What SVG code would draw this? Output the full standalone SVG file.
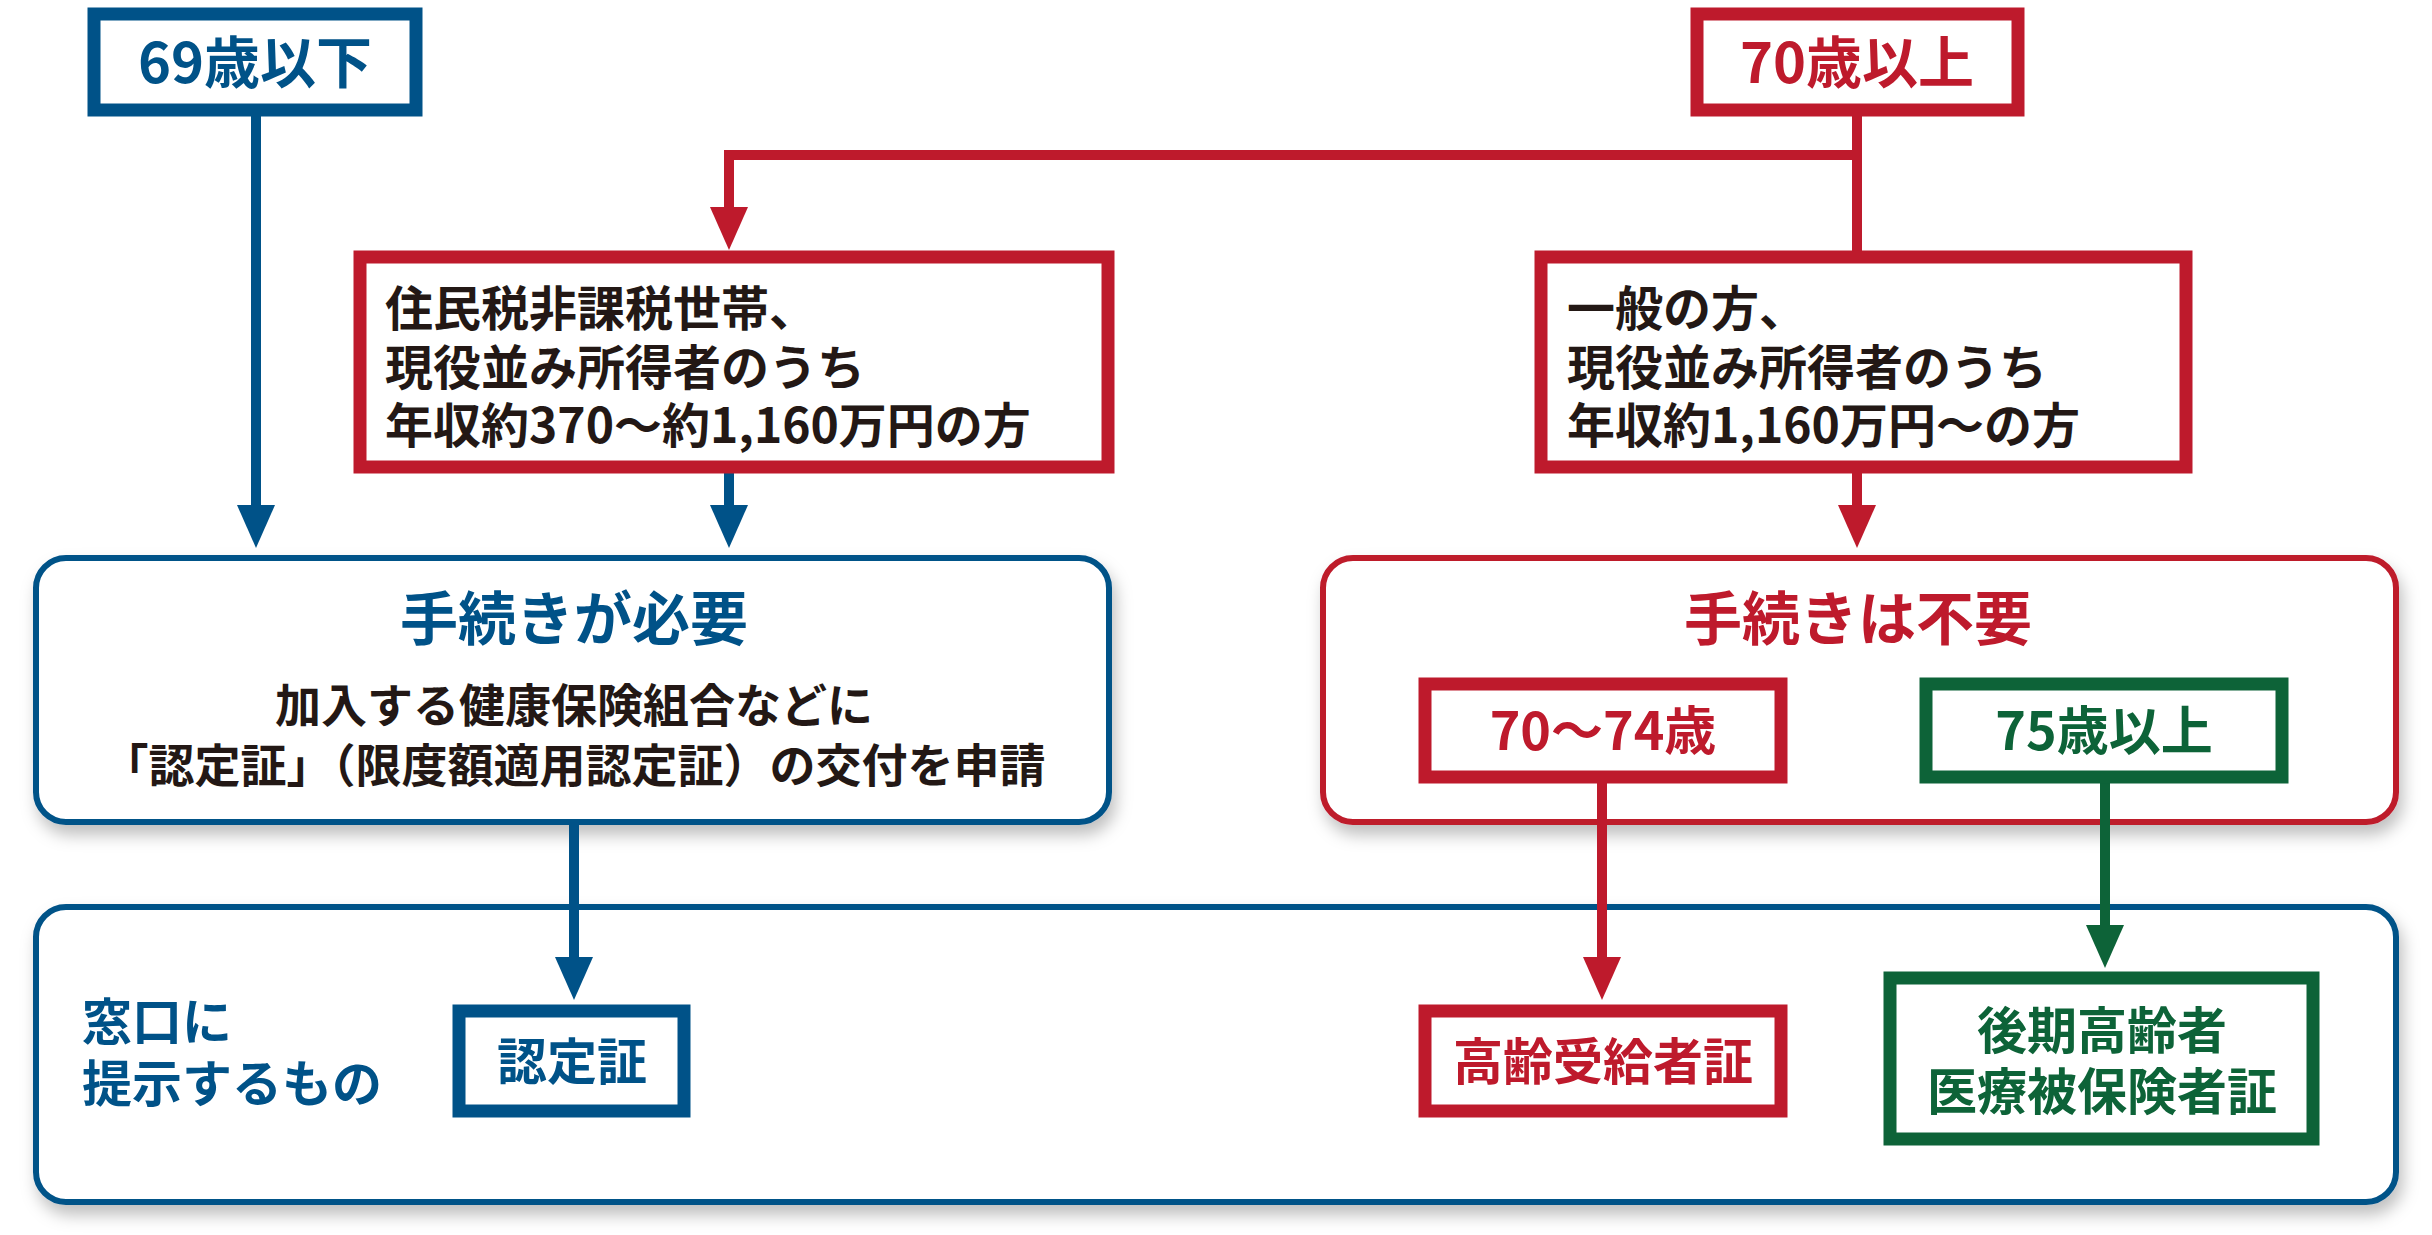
<svg xmlns="http://www.w3.org/2000/svg" width="2432" height="1235" viewBox="0 0 2432 1235">
<defs>
<style>
text{font-family:"Noto Sans CJK JP","Noto Sans",sans-serif;font-weight:bold}
.b{fill:#005288}.r{fill:#be1a2c}.g{fill:#0d6338}.k{fill:#231815}
.sb{stroke:#005288}.sr{stroke:#be1a2c}.sg{stroke:#0d6338}
.box{fill:#fff;stroke-width:13}
.rnd{fill:#fff;stroke-width:6}
.ln{fill:none;stroke-width:10}
</style>
<filter id="sh" x="-5%" y="-5%" width="110%" height="120%"><feDropShadow dx="4" dy="10" stdDeviation="8" flood-color="#000" flood-opacity="0.25"/></filter>
</defs>
<rect width="2432" height="1235" fill="#fff"/>
<g id="need"><rect class="rnd sb" x="36" y="558" width="1073" height="264" rx="30" filter="url(#sh)"/>
<text class="b" x="574" y="640" font-size="58" text-anchor="middle">手続きが必要</text>
<text class="k" x="574" y="722" font-size="46" text-anchor="middle">加入する健康保険組合などに</text>
<text class="k" x="574" y="782" font-size="46" text-anchor="middle">「認定証」（限度額適用認定証）の交付を申請</text></g>
<g id="noneed"><rect class="rnd sr" x="1323" y="558" width="1073" height="264" rx="30" filter="url(#sh)"/>
<text class="r" x="1858" y="640" font-size="58" text-anchor="middle">手続きは不要</text></g>
<g id="bottom"><rect class="rnd sb" x="36" y="907" width="2360" height="295" rx="30" filter="url(#sh)"/>
<text class="b" x="82" y="1040" font-size="50">窓口に</text>
<text class="b" x="82" y="1102" font-size="50">提示するもの</text></g>
<g id="connectors">
<line class="ln sb" x1="256" y1="116" x2="256" y2="510"/><polygon class="b" points="237,505 275,505 256,548"/>
<polyline class="ln sr" points="1857,116 1857,155 729,155 729,212"/><polygon class="r" points="710,207 748,207 729,250"/>
<line class="ln sr" x1="1857" y1="155" x2="1857" y2="251"/>
<line class="ln sb" x1="729" y1="473" x2="729" y2="510"/><polygon class="b" points="710,505 748,505 729,548"/>
<line class="ln sr" x1="1857" y1="473" x2="1857" y2="510"/><polygon class="r" points="1838,505 1876,505 1857,548"/>
<line class="ln sb" x1="574" y1="822" x2="574" y2="962"/><polygon class="b" points="555,957 593,957 574,1000"/>
<line class="ln sr" x1="1602" y1="783" x2="1602" y2="962"/><polygon class="r" points="1583,957 1621,957 1602,1000"/>
<line class="ln sg" x1="2105" y1="783" x2="2105" y2="930"/><polygon class="g" points="2086,925 2124,925 2105,968"/>
</g>
<g id="u69"><rect class="box sb" x="94" y="14" width="322" height="96"/><text class="b" x="255" y="83" font-size="56" text-anchor="middle">69歳以下</text></g>
<g id="o70"><rect class="box sr" x="1697" y="14" width="321" height="96"/><text class="r" x="1857" y="83" font-size="56" text-anchor="middle">70歳以上</text></g>
<g id="low"><rect class="box sr" x="360" y="257" width="748" height="210"/>
<text class="k" x="385" y="326" font-size="48">住民税非課税世帯、</text>
<text class="k" x="385" y="385" font-size="48">現役並み所得者のうち</text>
<text class="k" x="385" y="443" font-size="48">年収約370〜約1,160万円の方</text></g>
<g id="gen"><rect class="box sr" x="1541" y="257" width="645" height="210"/>
<text class="k" x="1567" y="326" font-size="48">一般の方、</text>
<text class="k" x="1567" y="385" font-size="48">現役並み所得者のうち</text>
<text class="k" x="1567" y="443" font-size="48">年収約1,160万円〜の方</text></g>
<g id="a7074"><rect class="box sr" x="1425" y="684" width="356" height="93"/><text class="r" x="1603" y="750" font-size="52" text-anchor="middle">70〜74歳</text></g>
<g id="a75"><rect class="box sg" x="1926" y="684" width="356" height="93"/><text class="g" x="2104" y="750" font-size="52" text-anchor="middle">75歳以上</text></g>
<g id="nintei"><rect class="box sb" x="459" y="1011" width="225" height="100"/><text class="b" x="572" y="1080" font-size="50" text-anchor="middle">認定証</text></g>
<g id="koureisha"><rect class="box sr" x="1425" y="1011" width="356" height="100"/><text class="r" x="1603" y="1080" font-size="50" text-anchor="middle">高齢受給者証</text></g>
<g id="kouki"><rect class="box sg" x="1890" y="978" width="423" height="161"/>
<text class="g" x="2102" y="1049" font-size="50" text-anchor="middle">後期高齢者</text>
<text class="g" x="2102" y="1110" font-size="50" text-anchor="middle">医療被保険者証</text></g>
</svg>
